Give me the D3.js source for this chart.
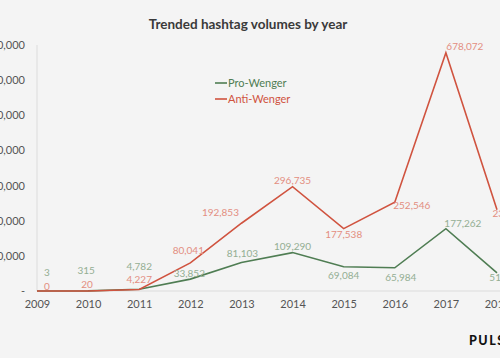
<!DOCTYPE html>
<html>
<head>
<meta charset="utf-8">
<script src="https://cdn.jsdelivr.net/npm/d3@7"></script>
<style>
  body { margin: 0; background: #f4f4f4; }
  svg { display: block; background: #f4f4f4; font-family: Lato, "Open Sans", sans-serif; }
</style>
</head>
<body>
<svg width="500" height="358"></svg>
<script>
'use strict';

// data
const years = [2009, 2010, 2011, 2012, 2013, 2014, 2015, 2016, 2017, 2018];
const proWenger = [3, 315, 4782, 33852, 81103, 109290, 69084, 65984, 177262, 51480];
const antiWenger = [0, 20, 4227, 80041, 192853, 296735, 177538, 252546, 678072, 231520];
const yTicks = [0, 100000, 200000, 300000, 400000, 500000, 600000, 700000];

// label nudges (dx, dy) per point
const proOffsets = [[10, -18], [-2, -20], [0, -23], [-1, -6], [1, -9], [0, -6], [0, 9], [6, 10], [17, -5], [8, 5]];
const antiOffsets = [[10, -5], [-1, -6], [0, -10], [-2, -12], [-21, -11], [0, -6], [0, 6], [17, 3], [19, -6], [14, 4]];

const svg = d3.select("svg");
const green = "#4f7d53", red = "#d0533f";
const greenLbl = "#93ae93", redLbl = "#e38e81";

const x = d3.scaleLinear().domain([2009, 2018]).range([37, 497]);
const y = d3.scaleLinear().domain([0, 700000]).range([291, 45]);

// title
svg.append("text")
    .attr("x", 248).attr("y", 29)
    .attr("text-anchor", "middle")
    .style("font-size", "13.5px").style("font-weight", "bold")
    .style("fill", "#3a3a3a")
    .text("Trended hashtag volumes by year");

// y axis
const yAxis = d3.axisLeft(y)
    .tickValues(yTicks)
    .tickSize(0)
    .tickPadding(12)
    .tickFormat(d => d === 0 ? "-" : d3.format(",")(d));
const gy = svg.append("g").attr("transform", "translate(37,0)").call(yAxis);
gy.select(".domain").attr("stroke", "#dcdcdc").attr("d", "M0,45V291");
gy.selectAll("text").style("font-size", "11px").style("fill", "#555").style("font-family", "Lato, sans-serif");

// x axis
const xAxis = d3.axisBottom(x)
    .tickValues(years)
    .tickSize(0)
    .tickPadding(9)
    .tickFormat(d3.format("d"));
const gx = svg.append("g").attr("transform", "translate(0,291)").call(xAxis);
gx.select(".domain").attr("stroke", "#dcdcdc").attr("d", "M37,0H500");
gx.selectAll("text").style("font-size", "11px").style("fill", "#555").style("font-family", "Lato, sans-serif");

const line = d3.line()
    .x((d, i) => x(years[i]))
    .y(d => y(d));

const series = [
    { name: "Pro-Wenger", values: proWenger, color: green, lbl: greenLbl, off: proOffsets },
    { name: "Anti-Wenger", values: antiWenger, color: red, lbl: redLbl, off: antiOffsets }
];

series.forEach(function (s) {
    svg.append("path")
        .datum(s.values)
        .attr("fill", "none")
        .attr("stroke", s.color)
        .attr("stroke-width", 1.6)
        .attr("d", line);
});

series.forEach(function (s) {
    svg.append("g").selectAll("text")
        .data(s.values)
        .enter().append("text")
        .attr("x", (d, i) => x(years[i]) + s.off[i][0])
        .attr("y", (d, i) => y(d) + s.off[i][1])
        .attr("text-anchor", "middle")
        .attr("dy", "0.35em")
        .style("font-size", "10px")
        .style("fill", s.lbl)
        .text(d => d3.format(",")(d));
});

// legend
const legend = svg.append("g").selectAll("g")
    .data(series)
    .enter().append("g")
    .attr("transform", (d, i) => "translate(215," + (83 + i * 16) + ")");
legend.append("line")
    .attr("x1", 0).attr("x2", 12)
    .attr("stroke", d => d.color).attr("stroke-width", 1.6);
legend.append("text")
    .attr("x", 13).attr("dy", "0.35em")
    .style("font-size", "11px")
    .style("fill", d => d.color)
    .text(d => d.name);

// logo
svg.append("text")
    .attr("x", 469).attr("y", 345)
    .style("font-size", "12.5px").style("font-weight", "900")
    .style("letter-spacing", "1.5px")
    .style("fill", "#111")
    .text("PULSAR");
</script>
</body>
</html>
